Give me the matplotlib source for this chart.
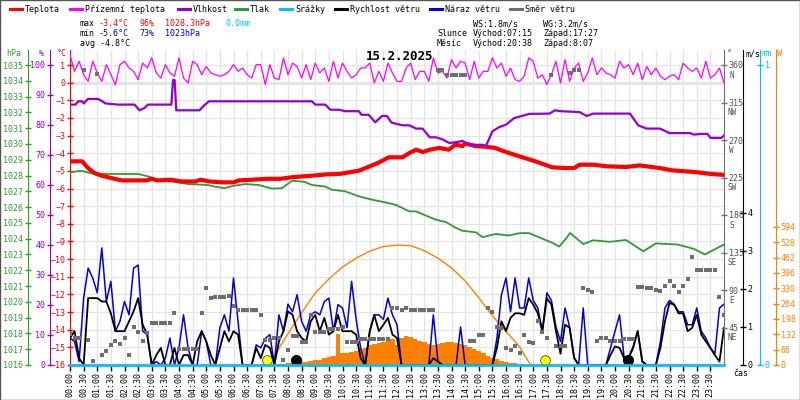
"""Daily weather station chart 15.2.2025 (temperature, humidity, pressure, wind, sun)."""
import numpy as np
import matplotlib
matplotlib.use("Agg")
import matplotlib.pyplot as plt
from matplotlib.lines import Line2D
from matplotlib.patches import Rectangle

plt.rcParams["font.family"] = ["DejaVu Sans Mono"]

# ---------------------------------------------------------------- data
# hours of day for the 10-minute series
HOURS_10MIN = np.arange(145) / 6.0

TEMP_T = [0.0, 0.45, 0.66, 0.9, 1.15, 1.5, 1.9, 2.8, 3.0, 3.2, 3.7, 4.1, 4.6, 4.8, 5.1,
          5.6, 6.0, 6.2, 6.7, 7.2, 7.7, 8.15, 8.9, 9.4, 9.9, 10.1, 10.6, 11.0, 11.3,
          11.7, 12.2, 12.45, 12.7, 12.95, 13.2, 13.55, 13.9, 14.15, 14.4, 14.5, 14.9,
          15.25, 15.6, 16.0, 16.5, 17.0, 17.35, 17.7, 18.2, 18.5, 18.7, 19.2, 19.7,
          20.4, 20.9, 21.65, 22.1, 22.9, 23.5, 24.0]
TEMP_C = [-4.46, -4.46, -4.84, -5.12, -5.27, -5.4, -5.54, -5.54, -5.45, -5.54, -5.5,
          -5.6, -5.6, -5.5, -5.6, -5.65, -5.65, -5.54, -5.5, -5.45, -5.45, -5.36, -5.27,
          -5.2, -5.17, -5.12, -4.99, -4.74, -4.55, -4.23, -4.23, -3.99, -3.8, -3.93,
          -3.8, -3.7, -3.8, -3.51, -3.6, -3.45, -3.6, -3.63, -3.7, -3.93, -4.18, -4.42,
          -4.61, -4.8, -4.84, -4.84, -4.65, -4.65, -4.74, -4.78, -4.69, -4.84, -4.97,
          -5.06, -5.17, -5.23]

APPARENT_C = [
    1.58, 0.64, 1.21, 0.45, 0.07, 1.21, 0.55, 0.07, 1.02, 0.45, -0.11, 1.02, 1.21,
    0.83, 0.64, 0.17, 1.11, 0.83, 1.4, 0.55, 0.26, 1.02, 0.55, 0.36, 1.4, 0.26, -0.02,
    1.21, 1.02, 0.45, 0.92, 0.55, 0.45, 0.36, 0.45, 0.64, 1.02,
    0.64, 0.83, 0.45, 0.26, 1.02, 1.02, -0.11, 1.02, 0.26, 0.17, 1.4, 0.45, 1.11, 0.92,
    0.26, 1.02, 0.17, 1.11, 0.55, 0.83, 0.07, 1.21, 0.26, 1.11, 0.64, 0.26, 0.45, 0.83,
    0.83, 1.11, -0.02, 0.64, 0.07, 1.11, 0.55, 0.07,
    0.07, 0.83, 1.11, 0.17, 0.64, 0.64, 0.07, 1.4, 0.55, 0.64, 0.26, 1.3, 0.83, 1.21,
    1.11, 0.17, 1.21, 0.26, 0.64, 0.64, 1.4, 0.83, 1.11, 0.36, 0.83, 0.17, 0.07, 0.36,
    1.4, 1.21, 0.26, 0.45, -0.11, 0.45, 1.21, -0.02,
    1.3, 0.07, 0.83, 1.11, 0.07, 0.55, 1.4, 0.45, 0.83, 0.55, 0.45, 0.26, 1.21, 0.83,
    1.02, 0.45, 1.11, 0.17, 0.92, 0.45, 0.83, 0.36, 0.17, 0.36, 0.45, 0.17, 1.11, 0.83,
    0.64, 0.83, 0.26, 1.21, 0.26, 0.45, 0.83, -0.02]

HUM_T = [0, 0.2, 0.3, 0.45, 0.5, 0.66, 1.03, 1.15, 1.3, 1.76, 2.37, 2.55, 2.74, 2.86,
         3.72, 3.78, 3.84, 3.9, 4.75, 4.93, 5.1, 8.88, 9.0, 9.37, 9.55, 9.86, 10.1, 10.6,
         10.7, 10.96, 11.2, 11.45, 11.63, 11.8, 12.2, 12.45, 12.7, 12.94, 13.2, 13.43,
         13.67, 13.92, 14.2, 14.4, 14.65, 15.14, 15.26, 15.5, 15.75, 16.0, 16.3, 16.85,
         17.6, 17.8, 18.0, 18.7, 18.96, 19.2, 20.55, 20.85, 21.16, 21.65, 22.0, 22.75,
         22.9, 23.1, 23.4, 23.5, 23.9, 24.0]
HUM_PCT = [86.8, 86.8, 87.9, 87.9, 87.2, 88.7, 88.7, 88.1, 87.2, 86.8, 86.8, 84.9, 85.7,
           86.8, 86.8, 95.0, 95.0, 84.9, 84.9, 86.6, 87.9, 87.9, 86.8, 86.8, 85.1, 85.1,
           84.6, 84.6, 83.4, 83.4, 80.9, 83.0, 83.0, 80.8, 79.9, 79.9, 78.8, 78.8, 75.9,
           75.9, 75.2, 74.0, 74.3, 74.7, 73.4, 73.4, 72.9, 77.9, 79.3, 80.1, 82.3, 83.7,
           83.8, 84.9, 84.6, 84.3, 83.0, 83.8, 83.8, 79.9, 78.8, 78.8, 77.3, 77.3, 76.8,
           77.0, 77.0, 75.7, 75.7, 76.5]

PRES_T = [0, 0.4, 0.9, 2.5, 2.86, 3.35, 3.84, 4.33, 5.06, 5.3, 5.67, 6.0, 6.43, 6.92,
          7.41, 7.78, 8.15, 8.6, 8.88, 9.37, 9.6, 10.1, 10.6, 11.08, 11.57, 11.94, 12.2,
          12.45, 12.7, 12.94, 13.43, 13.8, 14.16, 14.4, 14.9, 15.14, 15.63, 16.1, 16.5,
          16.85, 17.2, 17.71, 17.95, 18.2, 18.35, 18.84, 19.2, 19.8, 20.4, 21.04, 21.5,
          22.3, 22.9, 23.3, 24.0]
PRES_HPA = [1028.2, 1028.3, 1028.1, 1028.1, 1027.95, 1027.67, 1027.6, 1027.46, 1027.4,
            1027.3, 1027.2, 1027.35, 1027.46, 1027.4, 1027.17, 1027.2, 1027.67, 1027.6,
            1027.4, 1027.3, 1027.1, 1027.0, 1026.68, 1026.47, 1026.3, 1026.15, 1025.94,
            1025.73, 1025.73, 1025.55, 1025.2, 1025.05, 1024.68, 1024.5, 1024.4, 1024.1,
            1024.3, 1024.2, 1024.35, 1024.35, 1024.1, 1023.73, 1023.5, 1024.0, 1024.36,
            1023.66, 1023.9, 1023.8, 1023.92, 1023.2, 1023.7, 1023.63, 1023.35, 1023.0,
            1023.63]

PRECIP_MM = [0.0] * 145

WIND_MS = [
    0.71, 0.89, 0.18, 0, 1.76, 1.76, 1.76, 1.67, 1.67, 1.36, 0.89, 0.89, 0.89, 1.15,
    1.41, 1.76, 1.06, 0.8, 0, 0.26, 0.45, 0, 0, 0.45, 0, 0.26, 0.26, 0, 0.62, 0.89,
    0.62, 0.26, 0, 0.45, 0.89, 0.62, 0.89,
    0.8, 0, 0, 0, 0.45, 0.18, 0.53, 0.45, 0, 0.62, 0.89, 1.41, 1.32, 0.89, 0.71, 0.62,
    1.15, 1.32, 0.89, 1.24, 0.8, 0.89, 1.32, 0.89, 0.89, 0.89, 0.8, 0.18, 0, 0.89, 1.32,
    0.89, 1.06, 1.24, 0.8, 0.71,
    0, 0, 0, 0, 0, 0, 0, 0.18, 0.09, 0, 0, 0, 0, 0, 0, 0, 0, 0, 0, 0, 0, 0.45, 1.15,
    0.89, 1.24, 1.36, 1.36, 1.32, 1.76, 1.59, 1.36, 0.89, 1.76, 1.59, 0.89, 0.3,
    1.06, 0.98, 0.18, 0, 0, 0, 0, 0, 0, 0, 0.26, 0.49, 0.45, 0.18, 0.18, 0.45, 0.89,
    0.09, 0, 0, 0, 0.45, 1.15, 1.63, 1.59, 1.36, 1.36, 0.89, 0.98, 1.32, 0.8, 0.62,
    0.45, 0.26, 0.09, 0.98]

GUST_MS = [
    0.71, 0.62, 0.09, 1.76, 2.55, 2.29, 1.9, 3.08, 1.67, 2.2, 0.89, 1.15, 1.67, 1.32,
    2.55, 2.63, 0.89, 0.8, 0, 0.09, 0, 0.18, 0.71, 0, 0.45, 1.32, 0.45, 0, 0, 0.89,
    0.62, 0, 0, 0.98, 1.32, 0.89, 2.29,
    1.15, 0, 0, 0, 0.53, 0.45, 0.7, 0.8, 0, 1.32, 0.89, 1.6, 1.4, 1.85, 1.15, 0.89,
    1.32, 1.4, 1.32, 1.67, 1.76, 0.89, 1.59, 1.5, 0.98, 2.2, 1.2, 0.45, 0, 0.89, 1.32,
    1.32, 1.2, 1.76, 1.32, 1.06,
    0, 0, 0, 0, 0, 0, 0, 1.32, 0.1, 0, 0, 0, 0, 1.0, 0, 0, 0, 0, 0, 0, 0, 0.71, 1.85,
    2.29, 1.4, 2.29, 1.5, 1.5, 2.29, 1.7, 1.5, 0.89, 1.9, 1.7, 1.0, 0.62,
    1.5, 1.0, 0.2, 0, 1.5, 0, 0, 0, 0, 0, 0.45, 0.89, 1.32, 0.2, 0.2, 0.49, 0.9, 0.1,
    0, 0, 0, 0.62, 1.5, 1.7, 1.6, 1.4, 1.4, 1.06, 1.06, 1.5, 0.89, 0.71, 0.45, 0.3,
    1.5, 1.6]

WIND_DIR = [
    37, 33, 33, 354, 30, 5, 349, 12, 17, 24, 29, 25, 32, 12, 46, 40, 29, 38, 51, 51,
    51, 51, 51, 62, 19, 19, 19, 19, 19, 62, 92, 80, 82, 82, 82, 83, 71,
    66, 66, 66, 66, 66, 60, 30, 30, 32, 32, 6, 18, 35, 35, 28, 28, 60, 40, 40, 40, 43,
    43, 43, 46, 28, 28, 28, 31, 31, 31, 31, 31, 31, 31, 68, 68,
    66, 68, 66, 66, 66, 66, 66, 66, 354, 354, 348, 348, 348, 348, 348, 29, 29, 36, 36,
    68, 64, 46, 44, 20, 18, 23, 14, 36, 28, 26, 53, 40, 32, 348, 23, 23,
    23, 350, 354, 354, 92, 90, 88, 29, 32, 32, 29, 29, 29, 31, 31, 31, 94, 94, 93, 92,
    90, 89, 95, 101, 95, 88, 95, 103, 130, 114, 114, 114, 114, 114, 82, 60]

SOLAR_T = HOURS_10MIN[45:103]
SOLAR_W = [0, 4, 6, 8, 10, 12, 13, 15, 18, 20, 23, 28, 34, 40, 135, 50, 52, 55, 60, 68,
           75, 85, 90, 95, 100, 106, 112, 88, 115, 124, 120, 110, 102, 97, 90, 86, 89,
           95, 98, 100, 96, 92, 84, 78, 70, 62, 52, 40, 30, 24, 18, 14, 10, 7, 4, 2, 1, 0]

CLEAR_T = [7.25, 7.5, 8.0, 8.5, 9.0, 9.5, 10.0, 10.5, 11.0, 11.5, 12.0, 12.5, 13.0,
           13.5, 14.0, 14.5, 15.0, 15.5, 16.0, 16.5, 16.9]
CLEAR_W = [0, 40, 135, 225, 310, 370, 422, 460, 490, 510, 516, 514, 492, 460, 418,
           362, 290, 212, 145, 78, 0]

SUN_T = [7.23, 17.43]
MOON_T = [8.29, 20.48]

DIR_TICKS = [45, 90, 135, 180, 225, 270, 315, 360]
DIR_NAMES = ["NE", "E", "SE", "S", "SW", "W", "NW", "N"]
W_TICKS = [0, 66, 132, 198, 264, 330, 396, 462, 528, 594]

# ---------------------------------------------------------------- style
RED, MAGENTA, PURPLE, GREEN = "#ff0000", "#ff00ff", "#9400d3", "#339933"
CYAN, BLACK, BLUE, GRAY, ORANGE = "#00bfff", "#000000", "#0000dd", "#6e6e6e", "#ff8000"

FW, FH = 800, 400
X0, X1, Y0, Y1 = 70, 724, 50, 365      # plot box, pixels


def fx(px):
    return px / FW


def fy(py):
    return 1 - py / FH


def lim(v_lo, y_lo, v_hi, y_hi):
    per_px = (v_hi - v_lo) / (y_lo - y_hi)
    return v_lo - (Y1 - y_lo) * per_px, v_hi + (y_hi - Y0) * per_px


def spine_pos(px):
    return ("axes", (px - X0) / (X1 - X0))


fig = plt.figure(figsize=(8, 4), dpi=100)
ax = fig.add_axes([fx(X0), fy(Y1), (X1 - X0) / FW, (Y1 - Y0) / FH])
ax.set_xlim(0, 24)
ax.set_ylim(*lim(-16, 365, 1, 65))
for s in ax.spines.values():
    s.set_visible(False)
ax.spines["left"].set_visible(True)
ax.spines["left"].set_color(RED)
ax.set_yticks(range(-16, 2))
ax.tick_params(axis="y", direction="inout", length=5, width=1, colors=RED,
               labelsize=6, pad=1)
xt = np.arange(0, 24, 0.5)
ax.set_xticks(xt)
ax.set_xticklabels([f"{int(h):02d}:{int(round((h % 1) * 60)):02d}" for h in xt],
                   rotation=90)
ax.tick_params(axis="x", direction="out", length=4, width=1, colors=BLACK,
               labelsize=6, pad=1)
ax.grid(True, color="#e4e4e4", lw=0.9)
ax.axhline(0, color="#808080", lw=1, zorder=1)


def twin(z, ylim):
    a = ax.twinx()
    a.set_ylim(*ylim)
    a.set_zorder(z)
    a.patch.set_visible(False)
    for s in a.spines.values():
        s.set_visible(False)
    a.set_yticks([])
    return a


def yaxis(a, side, px, color, ticks, label_color=None):
    sp = a.spines[side]
    sp.set_visible(True)
    sp.set_position(spine_pos(px))
    sp.set_color(color)
    a.yaxis.set_ticks_position(side)
    a.set_yticks(ticks)
    a.tick_params(axis="y", direction="inout", length=5, width=1, color=color,
                  labelcolor=label_color or color, labelsize=6, pad=1)


ax_w = twin(1, lim(0, 365, 594, 227))
ax_p = twin(2, lim(1016, 365, 1035, 65))
ax_t = twin(3, ax.get_ylim())
ax_h = twin(4, lim(0, 365, 100, 65))
ax_ws = twin(5, lim(0, 365, 4, 213))
ax_d = twin(6, lim(0, 365, 360, 65))
ax_mm = twin(7, lim(0, 365, 1, 65))

yaxis(ax_p, "left", 28, GREEN, range(1016, 1036))
yaxis(ax_h, "left", 50, PURPLE, range(0, 101, 10))
yaxis(ax_d, "right", 724, "#707070", DIR_TICKS, "#505050")
yaxis(ax_ws, "right", 743, BLACK, range(0, 5))
yaxis(ax_mm, "right", 760, CYAN, [0, 1])
yaxis(ax_w, "right", 776, ORANGE, W_TICKS)
ax_d.set_yticklabels([str(d) for d in DIR_TICKS])
for d, name in zip(DIR_TICKS, DIR_NAMES):
    ax_d.annotate(name, xy=(1, d), xycoords=ax_d.get_yaxis_transform(),
                  xytext=(5.5, -4), textcoords="offset points", ha="center",
                  va="top", fontsize=5.5, color="#505050")

# series
ax_w.fill_between(SOLAR_T, SOLAR_W, 0, step="mid", color=ORANGE, lw=0)
ax_w.plot(CLEAR_T, CLEAR_W, color=ORANGE, lw=1)
ax_p.plot(PRES_T, PRES_HPA, color=GREEN, lw=1.3)
ax_t.plot(HOURS_10MIN, APPARENT_C, color=MAGENTA, lw=0.9)
ax_t.plot(TEMP_T, TEMP_C, color=RED, lw=3)
ax_h.plot(HUM_T, HUM_PCT, color=PURPLE, lw=1.6)
ax_ws.plot(HOURS_10MIN, GUST_MS, color=BLUE, lw=1.1)
ax_ws.plot(HOURS_10MIN, WIND_MS, color=BLACK, lw=1.3)
ax_ws.plot(SUN_T, [0.015] * len(SUN_T), "o", ms=7, mfc="#ffff00", mec="#333300",
           mew=0.5, transform=ax_ws.get_xaxis_transform())
ax_ws.plot(MOON_T, [0.015] * len(MOON_T), "o", ms=7, mfc=BLACK, mec=BLACK,
           transform=ax_ws.get_xaxis_transform())
ax_d.plot(HOURS_10MIN, WIND_DIR, "s", ms=3.4, color=GRAY, mew=0)
ax_mm.plot(HOURS_10MIN, PRECIP_MM, color=CYAN, lw=2, clip_on=False)

# legend row
LEGEND = [("Teplota", RED, 10), ("Přízemní teplota", MAGENTA, 70), ("Vlhkost", PURPLE, 178),
          ("Tlak", GREEN, 235), ("Srážky", CYAN, 280), ("Rychlost větru", BLACK, 335),
          ("Náraz větru", BLUE, 430), ("Směr větru", GRAY, 510)]
for label, color, x0 in LEGEND:
    fig.add_artist(Line2D([fx(x0), fx(x0 + 12)], [fy(9), fy(9)], color=color, lw=2.2,
                          transform=fig.transFigure))
    fig.text(fx(x0 + 15), fy(9), label, fontsize=6, va="center", ha="left")

# stats block
STATS = [(80, 24, "max", BLACK), (99, 24, "-3.4°C", RED), (139, 24, "96%", RED),
         (165, 24, "1028.3hPa", RED), (226, 24, "0.0mm", CYAN),
         (80, 34, "min", BLACK), (99, 34, "-5.6°C", BLUE), (139, 34, "73%", BLUE),
         (165, 34, "1023hPa", BLUE), (80, 44, "avg -4.8°C", BLACK),
         (473, 24, "WS:1.8m/s", BLACK), (543, 24, "WG:3.2m/s", BLACK),
         (437, 34, "Slunce", BLACK), (473, 34, "Východ:07:15", BLACK),
         (543, 34, "Západ:17:27", BLACK), (437, 44, "Měsíc", BLACK),
         (473, 44, "Východ:20:38", BLACK), (543, 44, "Západ:8:07", BLACK)]
for x, y, s, c in STATS:
    fig.text(fx(x), fy(y), s, fontsize=6, color=c, va="center", ha="left")

fig.text(fx(400), fy(57), "15.2.2025", fontsize=9, fontweight="bold", ha="center",
         va="center")

# axis unit labels
for x, s, c in [(6, "hPa", GREEN), (39, "%", PURPLE), (57, "°C", RED),
                (727, "°", "#505050"), (745, "m/s", BLACK), (762, "mm", CYAN),
                (777, "W", ORANGE)]:
    fig.text(fx(x), fy(54), s, fontsize=6, color=c, va="center", ha="left")
fig.text(fx(733), fy(374), "čas", fontsize=6, va="center", ha="left")

fig.add_artist(Rectangle((0.0006, 0.0012), 0.9988, 0.9976, transform=fig.transFigure,
                         fill=False, edgecolor="#555555", lw=1))

fig.savefig("out.png", dpi=100)
